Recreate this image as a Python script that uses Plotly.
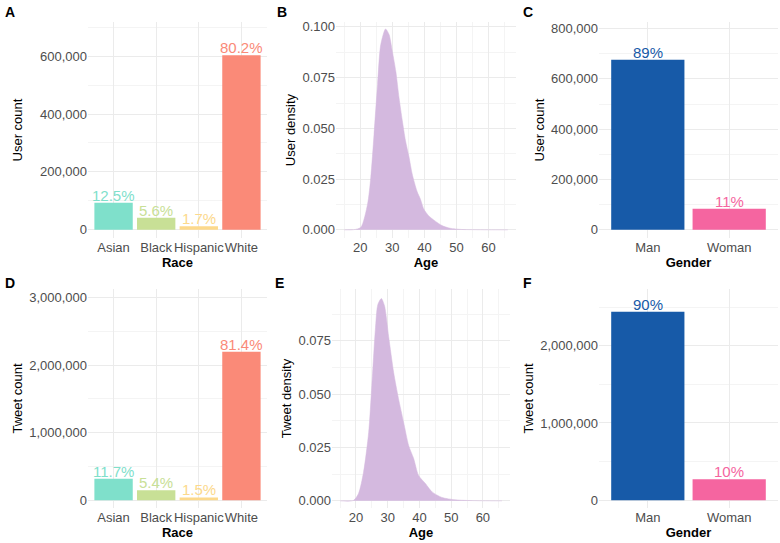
import plotly.graph_objects as go

# ---------------- data ----------------
race_categories = ["Asian", "Black", "Hispanic", "White"]
race_user_counts = [94000, 42100, 12800, 603100]
race_user_pct = ["12.5%", "5.6%", "1.7%", "80.2%"]
race_tweet_counts = [316000, 146000, 40500, 2198000]
race_tweet_pct = ["11.7%", "5.4%", "1.5%", "81.4%"]

gender_categories = ["Man", "Woman"]
gender_user_counts = [676000, 84000]
gender_user_pct = ["89%", "11%"]
gender_tweet_counts = [2439000, 271000]
gender_tweet_pct = ["90%", "10%"]

user_age = [15, 18, 20.2, 22.3, 23.3, 24.3, 25.4, 26.4, 27.9, 29.0, 30.0, 31.1, 32.1, 33.1,
            34.1, 35.2, 36.2, 37.7, 38.8, 39.8, 41.3, 43.4, 45.5, 48.0, 51.6, 55, 60, 66]
user_density = [0, 0.0001, 0.0013, 0.0128, 0.0259, 0.047, 0.0717, 0.0913, 0.0990, 0.0962,
                0.088, 0.078, 0.065, 0.054, 0.044, 0.036, 0.0275, 0.019, 0.015, 0.0103,
                0.007, 0.0043, 0.0021, 0.0008, 0.0002, 0.0001, 0.00003, 0]

tweet_age = [15, 19.2, 20.8, 22.4, 24.0, 25.0, 26.1, 26.9, 28.0, 29.0, 30.3, 31.9, 33.4,
             35.0, 36.6, 38.2, 39.7, 41.9, 44.0, 47.1, 51.3, 55, 60, 66]
tweet_density = [0, 0.0002, 0.0034, 0.0135, 0.032, 0.054, 0.080, 0.092, 0.0948, 0.0914,
                 0.077, 0.060, 0.048, 0.037, 0.026, 0.0198, 0.012, 0.0081, 0.0042, 0.0016,
                 0.0005, 0.0002, 0.00005, 0]

race_colors = ["#7FE0CB", "#C8E096", "#FCD98C", "#FA8A78"]
gender_colors = ["#175AA8", "#F565A0"]
density_color = "#D4B9DF"

W, H = 780, 543
FONT = "Liberation Sans, Arial, sans-serif"
TICK_COLOR = "#4D4D4D"
GRID = "#EBEBEB"
MINOR = "#F4F4F4"


def xd(a, b):
    return [a / W, b / W]


def yd(top, bottom):
    return [1 - bottom / H, 1 - top / H]


TOP_ROW = yd(20, 237)
BOT_ROW = yd(288, 508)

fig = go.Figure()

panels = [
    dict(n=1, kind="race", vals=race_user_counts, pct=race_user_pct, yr=[-28600, 718000],
         dt=200000, dx=xd(88, 267), dy=TOP_ROW, yt="User count", xt="Race", letter="A", so=14),
    dict(n=2, kind="dens", ax=user_age, vals=user_density, yr=[-0.00407, 0.10245],
         dt=0.025, dx=xd(336, 516), dy=TOP_ROW, yt="User density", xt="Age", letter="B", so=3),
    dict(n=3, kind="gender", vals=gender_user_counts, pct=gender_user_pct, yr=[-32900, 826500],
         dt=200000, dx=xd(599, 778), dy=TOP_ROW, yt="User count", xt="Gender", letter="C", so=3),
    dict(n=4, kind="race", vals=race_tweet_counts, pct=race_tweet_pct, yr=[-118000, 3128000],
         dt=1000000, dx=xd(88, 267), dy=BOT_ROW, yt="Tweet count", xt="Race", letter="D", so=3),
    dict(n=5, kind="dens", ax=tweet_age, vals=tweet_density, yr=[-0.0034, 0.0993],
         dt=0.025, dx=xd(332, 510), dy=BOT_ROW, yt="Tweet density", xt="Age", letter="E", so=3),
    dict(n=6, kind="gender", vals=gender_tweet_counts, pct=gender_tweet_pct, yr=[-103000, 2735000],
         dt=1000000, dx=xd(599, 778), dy=BOT_ROW, yt="Tweet count", xt="Gender", letter="F", so=3),
]

annotations = []
for p in panels:
    n = p["n"]
    xa = "x" if n == 1 else f"x{n}"
    ya = "y" if n == 1 else f"y{n}"
    xkey = "xaxis" if n == 1 else f"xaxis{n}"
    ykey = "yaxis" if n == 1 else f"yaxis{n}"

    if p["kind"] in ("race", "gender"):
        cats = race_categories if p["kind"] == "race" else gender_categories
        cols = race_colors if p["kind"] == "race" else gender_colors
        fig.add_trace(go.Bar(x=cats, y=p["vals"], marker=dict(color=cols, line=dict(width=0)),
                             width=0.9, xaxis=xa, yaxis=ya, showlegend=False, hoverinfo="x+y"))
        for c, v, t, col in zip(cats, p["vals"], p["pct"], cols):
            annotations.append(dict(x=c, y=v, xref=xa, yref=ya, text=t, showarrow=False,
                                    yanchor="bottom", yshift=-3,
                                    font=dict(family=FONT, size=15, color=col)))
        xaxis = dict(type="category", categoryorder="array", categoryarray=cats,
                     range=[-0.6, len(cats) - 0.4])
        yfmt = ","
    else:
        fig.add_trace(go.Scatter(x=p["ax"], y=p["vals"], mode="lines", fill="tozeroy",
                                 fillcolor=density_color,
                                 line=dict(color=density_color, width=0.5,
                                           shape="spline", smoothing=0.7),
                                 xaxis=xa, yaxis=ya, showlegend=False))
        xaxis = dict(range=[12.45, 68.55], tickvals=[20, 30, 40, 50, 60],
                     minor=dict(tickvals=[15, 25, 35, 45, 55, 65], showgrid=True,
                                gridcolor=MINOR, gridwidth=0.6))
        yfmt = ".3f"
    yminor = dict(dtick=p["dt"] / 2, showgrid=True, gridcolor=MINOR, gridwidth=0.6)

    xaxis.update(dict(domain=p["dx"], anchor=ya, showgrid=True, gridcolor=GRID, gridwidth=1,
                      zeroline=False, showline=False, ticks="", fixedrange=True, tickangle=0,
                      tickfont=dict(family=FONT, size=13, color=TICK_COLOR),
                      title=dict(text=f"<b>{p['xt']}</b>", standoff=0,
                                 font=dict(family=FONT, size=13, color="black"))))
    yaxis = dict(domain=p["dy"], anchor=xa, range=p["yr"], dtick=p["dt"], tick0=0,
                 tickformat=yfmt, showgrid=True, gridcolor=GRID, gridwidth=1,
                 zeroline=False, showline=False, ticks="", minor=yminor, fixedrange=True,
                 tickfont=dict(family=FONT, size=13, color=TICK_COLOR),
                 title=dict(text=p["yt"], standoff=p["so"],
                            font=dict(family=FONT, size=13, color="black")))
    fig.update_layout({xkey: xaxis, ykey: yaxis})

    lx = {1: 3, 2: 275, 3: 521, 4: 3, 5: 273, 6: 521}[n]
    ly = {1: 0, 2: 0, 3: 0, 4: 272, 5: 272, 6: 272}[n]
    annotations.append(dict(x=lx / W, y=1 - ly / H, xref="paper", yref="paper",
                            text=f"<b>{p['letter']}</b>", showarrow=False,
                            xanchor="left", yanchor="top",
                            font=dict(family=FONT, size=14, color="black")))

fig.update_layout(width=W, height=H, margin=dict(l=0, r=0, t=0, b=0),
                  paper_bgcolor="white", plot_bgcolor="white",
                  font=dict(family=FONT, size=13), annotations=annotations,
                  bargap=0.1)

fig.write_html("out.html", config={"displayModeBar": False},
               post_script="document.body.style.margin='0';document.body.style.padding='0';")
